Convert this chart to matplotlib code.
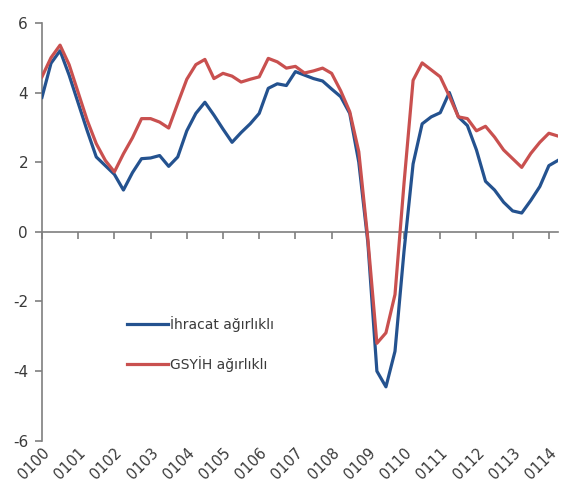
import numpy as np
import matplotlib
matplotlib.use("Agg")
import matplotlib.pyplot as plt

# quarterly series, 2000Q1 .. 2014Q2
ihracat = [3.86, 4.84, 5.2, 4.5, 3.7, 2.9, 2.15, 1.9, 1.65, 1.2,
           1.7, 2.1, 2.12, 2.19, 1.88, 2.15, 2.9, 3.4, 3.72, 3.35,
           2.95, 2.57, 2.85, 3.1, 3.4, 4.12, 4.25, 4.2, 4.6, 4.5,
           4.4, 4.33, 4.1, 3.88, 3.4, 2.0, -0.3, -4.0, -4.45, -3.43,
           -0.55, 1.95, 3.1, 3.3, 3.42, 4.0, 3.3, 3.05, 2.35, 1.45,
           1.2, 0.85, 0.6, 0.54, 0.9, 1.3, 1.9, 2.05]
gsyih = [4.45, 5.0, 5.36, 4.8, 4.0, 3.2, 2.53, 2.05, 1.72, 2.24,
         2.7, 3.25, 3.25, 3.15, 2.98, 3.69, 4.38, 4.8, 4.95, 4.4,
         4.55, 4.47, 4.3, 4.38, 4.45, 4.98, 4.88, 4.7, 4.75, 4.56,
         4.62, 4.7, 4.55, 4.05, 3.45, 2.3, -0.2, -3.2, -2.9, -1.8,
         1.4, 4.35, 4.85, 4.65, 4.45, 3.9, 3.3, 3.25, 2.9, 3.03,
         2.72, 2.35, 2.1, 1.85, 2.25, 2.57, 2.83, 2.75]
year_labels = ["01%02d" % y for y in range(0, 15)]
yticks = [-6, -4, -2, 0, 2, 4, 6]

txt = "#3a3a3a"
fig = plt.figure(figsize=(5.67, 4.86), dpi=100)
ax = fig.add_axes([0.074, 0.093, 0.91, 0.86])

x = np.arange(len(ihracat))
ax.plot(x, ihracat, color="#24528F", lw=2.3, label="İhracat ağırlıklı", zorder=3)
ax.plot(x, gsyih, color="#C9504F", lw=2.3, label="GSYİH ağırlıklı", zorder=3)

ax.set_xlim(0, len(x) - 1)
ax.set_ylim(-6, 6)

for s in ["top", "right"]:
    ax.spines[s].set_visible(False)
ax.spines["bottom"].set_position(("data", 0))
for s in ["left", "bottom"]:
    ax.spines[s].set_color("#7f7f7f")
    ax.spines[s].set_linewidth(1.2)

ax.set_yticks(yticks)
ax.set_yticklabels([str(v) for v in yticks], fontsize=11, color=txt)
ax.tick_params(axis="y", direction="out", length=5, width=1.2, color="#7f7f7f", pad=5)

xt = np.arange(0, len(x), 4)
ax.set_xticks(xt)
ax.set_xticklabels([])
ax.tick_params(axis="x", direction="out", length=5, width=1.2, color="#7f7f7f")

# year labels at the bottom of the plot
sec = ax.secondary_xaxis("bottom")
sec.spines["bottom"].set_visible(False)
sec.set_xticks(xt)
sec.set_xticklabels(year_labels, rotation=45, ha="right", va="top",
                    rotation_mode="anchor", fontsize=10.5, color=txt)
sec.tick_params(axis="x", length=0, pad=3)

leg = ax.legend(loc="upper left", bbox_to_anchor=(0.14, 0.328), frameon=False,
                handlelength=3.0, handletextpad=0.1, labelspacing=1.7,
                prop={"size": 10})
for t in leg.get_texts():
    t.set_color(txt)

fig.savefig("out.png", dpi=100)
